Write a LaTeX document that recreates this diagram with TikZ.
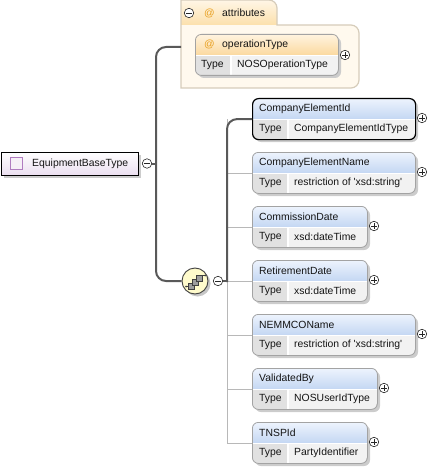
\documentclass[tikz,border=0pt]{standalone}
\usepackage{fontspec}
\newfontfamily\uif{Liberation Sans}
\definecolor{ehtop}{HTML}{EEF4FD}
\definecolor{ehbot}{HTML}{C4D7F3}
\definecolor{typerow}{HTML}{F2F2F2}
\definecolor{typecell}{HTML}{E1E1E1}
\definecolor{boxborder}{HTML}{A3A3A3}
\definecolor{attrfill}{HTML}{FFF9EE}
\definecolor{attrborder}{HTML}{D6CCBA}
\definecolor{tabtop}{HTML}{FFF6E6}
\definecolor{tabbot}{HTML}{FCE0AC}
\definecolor{attop}{HTML}{FFF4E0}
\definecolor{atbot}{HTML}{FBD9A0}
\definecolor{atsign}{HTML}{E9A020}
\definecolor{seqfill}{HTML}{FFFBCC}
\definecolor{purpl}{HTML}{B07CC0}
\definecolor{eqbot}{HTML}{EBDFF0}
\newcommand\pcirc[3]{%
  \node[pmcircle] (#1) at ({#2},{#3}) {};
  \draw[pmline] ([xshift=-2.6]#1.center) -- ([xshift=2.6]#1.center)
                ([yshift=-2.6]#1.center) -- ([yshift=2.6]#1.center);}
\newcommand\mcirc[3]{%
  \node[pmcircle] (#1) at ({#2},{#3}) {};
  \draw[pmline] ([xshift=-2.6]#1.center) -- ([xshift=2.6]#1.center);}
\newcommand\xelem[7]{%
  \fill[shadowc, rounded corners=6] (255,{#2+3}) rectangle ++(#3,41);
  \begin{scope}
    \clip[rounded corners=6] (252,#2) rectangle ++(#3,41);
    \shade[top color=ehtop, bottom color=ehbot] (252,#2) rectangle ++(#3,21);
    \fill[typerow] (252,{#2+21}) rectangle ++(#3,20);
    \fill[typecell] (252,{#2+21}) rectangle ++(36,20);
    \draw[white, line width=1.2] (288,{#2+21}) -- ++(0,20);
    \draw[white, line width=0.8] (252,{#2+21}) -- ++(#3,0);
  \end{scope}
  \node[draw=boxborder, line width=0.8, rounded corners=6, minimum width=#3, minimum height=41,
        inner sep=0, anchor=north west, #6] (#1) at (252,#2) {};
  \node[txt] (#1-t) at (259,{#2+10.5}) {#4};
  \node[txt] (#1-k) at (259,{#2+31}) {Type};
  \node[txt] (#1-v) at (294,{#2+31}) {#5};
  \pcirc{#7}{252+#3+7}{#2+20}%
}
\newcommand\attroutline{(181,88) -- (181,0) -- (269,0) .. controls (273.4,0) and (277,3.6) .. (277,8)
  -- (277,25) -- (351,25) .. controls (355.4,25) and (359,28.6) .. (359,33) -- (359,80)
  .. controls (359,84.4) and (355.4,88) .. (351,88) -- cycle}
\begin{document}
\begin{tikzpicture}[x=1pt,y=-1pt,
  txt/.style={font=\uif\fontsize{10.4}{12}\selectfont, inner sep=0, anchor=west, text=black!92},
  shadowc/.style={fill=black!20},
  pmcircle/.style={circle, draw=black!85, fill=white, minimum size=9.5, inner sep=0, line width=0.6},
  pmline/.style={line width=0.7, draw=black!85},
  conn/.style={draw=black!65, line width=2},
  thinc/.style={draw=black!28, line width=0.8},
]
\useasboundingbox (0,0) rectangle (433,468);

% ---------- attributes group ----------
\begin{scope}
  \clip \attroutline;
  \fill[attrfill] (181,0) rectangle (360,90);
  \shade[top color=tabtop, bottom color=tabbot] (181,0) rectangle (277,25);
\end{scope}
\draw[attrborder, line width=1.2] \attroutline;
\mcirc{attm}{189}{13}
\node[txt, text=atsign] (atta) at (204,13) {@};
\node[txt] (attt) at (222,13) {attributes};
\coordinate (attrc) at (181,47);

% operationType
\fill[shadowc, rounded corners=6] (198,37) rectangle (341,78);
\begin{scope}
  \clip[rounded corners=6] (195,34) rectangle (338,75);
  \shade[top color=attop, bottom color=atbot] (195,34) rectangle (338,55);
  \fill[typerow] (195,55) rectangle (338,75);
  \fill[typecell] (195,55) rectangle (231,75);
  \draw[white, line width=1.2] (231,55) -- (231,75);
  \draw[white, line width=0.8] (195,55) -- (338,55);
\end{scope}
\node[draw=boxborder, line width=0.8, rounded corners=6, minimum width=143, minimum height=41,
      inner sep=0, anchor=north west] (opt) at (195,34) {};
\node[txt, text=atsign] (opta) at (204,44.5) {@};
\node[txt] (optt) at (222,44.5) {operationType};
\node[txt] (optk) at (201,65) {Type};
\node[txt] (optv) at (237,65) {NOSOperationType};
\pcirc{optp}{345}{55}

% ---------- root type ----------
\fill[shadowc] (4,155) rectangle (141,178);
\shade[top color=white, bottom color=eqbot] (1,152) rectangle (138,175);
\node[draw=black, line width=0.9, minimum width=137, minimum height=23, inner sep=0,
      anchor=north west] (eq) at (1,152) {};
\node[draw=purpl, fill=purpl!12, minimum size=12, inner sep=0, line width=0.8] (eqi) at (16,163.5) {};
\node[txt] (eqt) at (32,163.5) {EquipmentBaseType};
\mcirc{eqm}{147}{163.5}

% ---------- sequence ----------
\fill[black!22] (197.5,283.5) circle (13);
\node[circle, draw=black!75, fill=seqfill, minimum size=26, inner sep=0, line width=0.9] (seq) at (195,281) {};
\draw[black!75, line width=0.8] (186,286.5) -- (190,286.5) (201,275.5) -- (205,275.5);
\fill[black!75] (186,286.5) circle (1) (205,275.5) circle (1);
\foreach \dx/\dy in {0/0,4/-4,8/-8}{
  \draw[fill=black!38, draw=black!75, line width=0.6] ({188+\dx},{283+\dy}) rectangle ++(6.5,6.5);
}
\mcirc{seqm}{218}{281}

% ---------- elements ----------
\xelem{ce1}{98}{163}{CompanyElementId}{CompanyElementIdType}{draw=black, line width=1.2}{ce1p}
\xelem{ce2}{152}{163}{CompanyElementName}{restriction of 'xsd:string'}{}{ce2p}
\xelem{ce3}{206}{115}{CommissionDate}{xsd:dateTime}{}{ce3p}
\xelem{ce4}{260}{115}{RetirementDate}{xsd:dateTime}{}{ce4p}
\xelem{ce5}{314}{163}{NEMMCOName}{restriction of 'xsd:string'}{}{ce5p}
\xelem{ce6}{368}{125}{ValidatedBy}{NOSUserIdType}{}{ce6p}
\xelem{ce7}{422}{115}{TNSPId}{PartyIdentifier}{}{ce7p}

% ---------- connectors ----------
\coordinate (vx) at (227,0);
\draw[thinc] (vx |- ce1.west) -- (vx |- ce7.west);
\foreach \n in {ce2,ce3,ce4,ce5,ce6,ce7}{
  \draw[thinc] (vx |- \n.west) -- (\n.west);
}
\draw[conn] (eqm.east) -- (157,163.5);
\draw[conn, rounded corners=10] (attrc) -| (156,163.5) |- (seq.west);
\draw[conn] (seqm.east) -- (228,281);
\draw[conn, rounded corners=10] (227,282) |- (ce1.west);
\end{tikzpicture}
\end{document}
